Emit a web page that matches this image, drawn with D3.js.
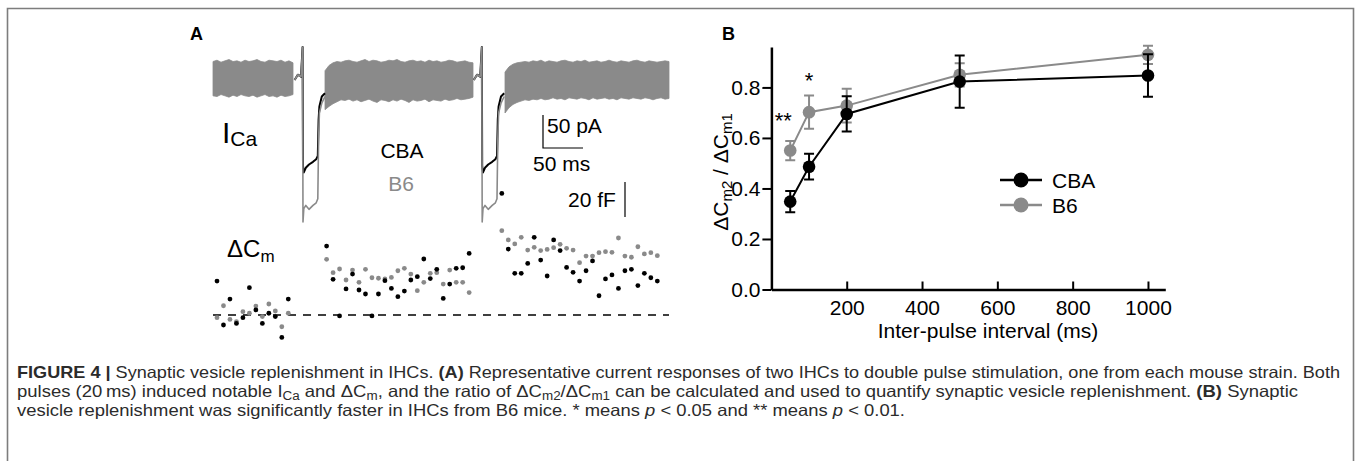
<!DOCTYPE html>
<html><head><meta charset="utf-8">
<script src="https://cdn.jsdelivr.net/npm/d3@7"></script>
<style>
html,body{margin:0;padding:0;background:#fff;}
svg{display:block;font-family:"Liberation Sans",Arial,Helvetica,sans-serif;}
</style></head><body>
<svg id="fig" width="1357" height="461"></svg>
<script>
// ================= Panel A data =================
// current trace (pA) around each depolarising pulse, times relative to pulse onset (ms)
const pulseOnsets = [112, 336];
const pulseShapeTime = [-10, -6, -2, 0, 0.5, 1.5, 4, 8, 13, 17, 19, 20, 21, 24, 28];
const cbaPulse = [0, 8, 5, 50, -130, -140, -133, -128, -124, -120, -115, -60, -40, -25, -20];
const b6Pulse  = [0, 8, 5, 50, -215, -195, -190, -196, -190, -186, -180, -90, -50, -35, -25];

// noise envelope of the holding current (pA), sampled every 5 ms
const bandStep = 5;
const band1Start = 0;
const band1Top = [28, 30, 27, 29, 31, 28, 29, 27, 30, 28, 29, 31, 28, 27, 30, 29, 28, 30, 27, 29, 26];
const band1Bottom = [-24, -25, -22, -24, -26, -23, -25, -22, -24, -25, -23, -26, -24, -22, -25, -24, -26, -23, -25, -24, -22];
const band2Start = 140;
const band2Top = [14, 22, 26, 28, 27, 29, 30, 28, 27, 29, 31, 28, 30, 29, 27, 28, 30, 29, 31, 28, 27, 29, 30, 28, 29, 27, 30, 28, 29, 27, 28, 30, 29, 27, 28, 29, 27, 26];
const band2Bottom = [-45, -40, -36, -33, -30, -31, -29, -32, -30, -33, -31, -29, -32, -34, -30, -31, -33, -30, -32, -29, -31, -34, -30, -32, -31, -29, -33, -30, -31, -32, -29, -31, -30, -28, -30, -29, -28, -26];
const band3Start = 365;
const band3Top = [12, 20, 24, 26, 27, 28, 27, 29, 28, 30, 27, 29, 28, 27, 29, 30, 28, 27, 29, 28, 30, 27, 28, 29, 27, 28, 30, 28, 27, 29, 28, 27, 29, 30, 28, 27, 29, 28, 27, 28, 29, 28];
const band3Bottom = [-50, -42, -37, -34, -32, -30, -31, -29, -30, -28, -30, -29, -27, -29, -28, -30, -27, -28, -29, -27, -28, -30, -27, -29, -28, -27, -29, -28, -30, -27, -28, -29, -27, -28, -29, -27, -28, -30, -28, -27, -29, -28];

// capacitance samples (fF), one every cmInterval ms
const cmInterval = 8.1;
const cmSeg1Start = 5, cmSeg2Start = 142, cmSeg3Start = 361;
const cbaCm1 = [19.4, -5.7, 9.1, -4.8, -1.5, 15.6, 2.9, -4.8, 1.0, -0.9, -12.8, 9.1];
const b6Cm1  = [-1.5, 5.3, -2.5, -3.8, 1.9, 1.0, 5.1, -0.9, 6.3, 2.3, -6.7, 1.0];
const cbaCm2 = [39.4, 20.4, -0.5, 14.9, 23.4, 14.3, 12.0, -0.5, 12.0, 19.6, 15.2, 10.5, 13.7, 20.0, 21.9, 32.0, 20.8, 26.1, 9.5, 17.7, 26.7, 27.0, 35.2];
const b6Cm2  = [31.8, 24.2, 26.3, 20.0, 25.7, 18.7, 26.1, 21.3, 21.0, 20.6, 21.5, 25.3, 26.7, 23.4, 13.9, 18.7, 23.8, 24.2, 17.7, 25.7, 18.7, 18.7, 12.8];
const cbaCm3 = [69.5, 37.7, 23.8, 23.8, 29.5, 44.4, 31.4, 22.3, 42.9, 36.8, 27.2, 24.4, 19.4, 25.3, 30.9, 11.0, 20.6, 22.9, 15.2, 25.3, 26.1, 16.8, 23.8, 21.3, 19.4];
const b6Cm3  = [48.2, 42.9, 40.6, 44.4, 37.1, 38.7, 36.8, 37.5, 38.5, 40.4, 38.1, 37.1, 29.9, 33.7, 33.7, 35.6, 36.2, 35.8, 44.0, 33.7, 33.0, 39.0, 34.9, 35.6, 33.9];

// scale bars
const barTimeMs = 50, barCurrentPA = 50, barCapFF = 20;

// ================= Panel B data =================
const intervals = [50, 100, 200, 500, 1000];
const cbaRatio = [0.348, 0.486, 0.695, 0.823, 0.847];
const cbaSem   = [0.042, 0.051, 0.070, 0.103, 0.084];
const b6Ratio  = [0.550, 0.702, 0.728, 0.850, 0.929];
const b6Sem    = [0.038, 0.066, 0.067, 0.046, 0.036];
const yTicks = [0, 0.2, 0.4, 0.6, 0.8];
const xTicks = [200, 400, 600, 800, 1000];
const sigMarks = [{x: 50, label: "**"}, {x: 100, label: "*"}];

const GRAY = "#8a8a8a";
const svg = d3.select("#fig");

// frame
svg.append("path").attr("d", "M7.5,461V8.5H1353.5V461")
  .attr("fill", "none").attr("stroke", "#7d7d7d").attr("stroke-width", 1.6);

// ---------------- Panel A ----------------
const xA = d3.scaleLinear().domain([0, 570]).range([213, 669]);
const yI = d3.scaleLinear().domain([-250, 50]).range([245, 47]);
const yC = d3.scaleLinear().domain([0, 80]).range([315, 175]);
const gA = svg.append("g");

svg.append("text").attr("x", 190).attr("y", 40).attr("font-weight", "bold")
  .attr("font-size", 18).text("A");

// noise band
const bands = [[band1Start, band1Top, band1Bottom], [band2Start, band2Top, band2Bottom], [band3Start, band3Top, band3Bottom]];
const area = d3.area().x(d => xA(d.t)).y0(d => yI(d.lo)).y1(d => yI(d.hi));
bands.forEach(([s, top, bot]) => {
  const pts = top.map((v, i) => ({t: s + i * bandStep, hi: v, lo: bot[i]}));
  gA.append("path").attr("d", area(pts)).attr("fill", GRAY).attr("stroke", GRAY).attr("stroke-width", 0.8);
});

// pulse traces
const line = d3.line().x(d => xA(d.t)).y(d => yI(d.v));
[[cbaPulse, "#000"], [b6Pulse, GRAY]].forEach(([shape, col]) => {
  pulseOnsets.forEach(on => {
    const pts = shape.map((v, i) => ({t: on + pulseShapeTime[i], v}));
    gA.append("path").attr("d", line(pts)).attr("fill", "none")
      .attr("stroke", col).attr("stroke-width", col === "#000" ? 2 : 1.6).attr("stroke-linejoin", "round");
  });
});

// scale bars (current/time)
const sbT = 412.5, sbI = -103;
gA.append("path")
  .attr("d", `M${xA(sbT)},${yI(sbI + barCurrentPA)}V${yI(sbI)}H${xA(sbT + barTimeMs)}`)
  .attr("fill", "none").attr("stroke", "#000").attr("stroke-width", 1.2);
gA.append("text").attr("x", xA(sbT) + 4).attr("y", 133).attr("font-size", 21).text("50 pA");
gA.append("text").attr("x", 533).attr("y", 171).attr("font-size", 21).text("50 ms");

// capacitance scale bar
const sbCT = 515, sbC = 56;
gA.append("line").attr("x1", xA(sbCT)).attr("x2", xA(sbCT))
  .attr("y1", yC(sbC)).attr("y2", yC(sbC + barCapFF)).attr("stroke", "#000").attr("stroke-width", 1.2);
gA.append("text").attr("x", 568).attr("y", 207).attr("font-size", 21).text("20 fF");

// labels
const ica = gA.append("text").attr("x", 222).attr("y", 143).attr("font-size", 30);
ica.append("tspan").text("I");
ica.append("tspan").attr("font-size", 21).attr("dy", 3).text("Ca");
gA.append("text").attr("x", 402).attr("y", 158).attr("text-anchor", "middle").attr("font-size", 21).text("CBA");
gA.append("text").attr("x", 401).attr("y", 191).attr("text-anchor", "middle").attr("font-size", 21).attr("fill", GRAY).text("B6");
const dcm = gA.append("text").attr("x", 227).attr("y", 257).attr("font-size", 24);
dcm.append("tspan").text("\u0394C");
dcm.append("tspan").attr("font-size", 17).attr("dy", 5).text("m");

// dashed baseline
gA.append("line").attr("x1", xA(0)).attr("x2", xA(570)).attr("y1", yC(0)).attr("y2", yC(0))
  .attr("stroke", "#000").attr("stroke-width", 1.5).attr("stroke-dasharray", "8,7");

// dots
const cmSets = [[cmSeg1Start, b6Cm1, GRAY], [cmSeg2Start, b6Cm2, GRAY], [cmSeg3Start, b6Cm3, GRAY],
                [cmSeg1Start, cbaCm1, "#000"], [cmSeg2Start, cbaCm2, "#000"], [cmSeg3Start, cbaCm3, "#000"]];
cmSets.forEach(([s, vals, col]) => {
  gA.append("g").selectAll("circle").data(vals).join("circle")
    .attr("cx", (d, i) => xA(s + i * cmInterval)).attr("cy", d => yC(d)).attr("r", 2.4).attr("fill", col);
});

// ---------------- Panel B ----------------
const xB = d3.scaleLinear().domain([0, 1046]).range([771.4, 1165.3]);
const yB = d3.scaleLinear().domain([0, 0.96]).range([289.5, 47]);
const gB = svg.append("g");
svg.append("text").attr("x", 722).attr("y", 40).attr("font-weight", "bold").attr("font-size", 18).text("B");

const yAx = gB.append("g").attr("transform", `translate(${xB(0)},0)`)
  .call(d3.axisLeft(yB).tickValues(yTicks).tickFormat(d3.format(".1f")).tickSizeInner(9).tickSizeOuter(0).tickPadding(2));
const xAx = gB.append("g").attr("transform", `translate(0,${yB(0)})`)
  .call(d3.axisBottom(xB).tickValues(xTicks).tickFormat(d3.format("d")).tickSizeInner(-8).tickSizeOuter(0).tickPadding(11));
[yAx, xAx].forEach(ax => {
  ax.select(".domain").attr("stroke", "#000").attr("stroke-width", 2.5);
  ax.selectAll(".tick line").attr("stroke", "#000").attr("stroke-width", 2);
  ax.selectAll("text").attr("font-size", 21).attr("fill", "#000").attr("font-family", '"Liberation Sans",Arial,sans-serif');
});

gB.append("text").attr("x", 988).attr("y", 338).attr("text-anchor", "middle").attr("font-size", 21)
  .text("Inter-pulse interval (ms)");
const yl = gB.append("text").attr("transform", "translate(728,172) rotate(-90)")
  .attr("text-anchor", "middle").attr("font-size", 21);
yl.append("tspan").text("\u0394C");
yl.append("tspan").attr("font-size", 15).attr("dy", 4).text("m2");
yl.append("tspan").attr("dy", -4).text(" / \u0394C");
yl.append("tspan").attr("font-size", 15).attr("dy", 4).text("m1");

const series = [[b6Ratio, b6Sem, GRAY], [cbaRatio, cbaSem, "#000"]];
const lineB = d3.line().x((d, i) => xB(intervals[i])).y(d => yB(d));
series.forEach(([vals, sem, col]) => {
  const g = gB.append("g");
  g.append("path").attr("d", lineB(vals)).attr("fill", "none").attr("stroke", col).attr("stroke-width", 2);
  vals.forEach((v, i) => {
    const x = xB(intervals[i]);
    const y1 = yB(v + sem[i]), y2 = yB(v - sem[i]);
    g.append("path").attr("d", `M${x},${y1}V${y2}M${x - 5},${y1}H${x + 5}M${x - 5},${y2}H${x + 5}`)
      .attr("stroke", col).attr("stroke-width", 2).attr("fill", "none");
  });
  g.selectAll("circle").data(vals).join("circle")
    .attr("cx", (d, i) => xB(intervals[i])).attr("cy", d => yB(d)).attr("r", 6.3).attr("fill", col);
});

// significance
gB.append("text").attr("x", xB(sigMarks[0].x) - 7).attr("y", 128).attr("text-anchor", "middle")
  .attr("font-size", 22).text(sigMarks[0].label);
gB.append("text").attr("x", xB(sigMarks[1].x)).attr("y", 88).attr("text-anchor", "middle")
  .attr("font-size", 22).text(sigMarks[1].label);

// legend
[["CBA", "#000", 180], ["B6", GRAY, 205]].forEach(([lab, col, y]) => {
  gB.append("line").attr("x1", 1000).attr("x2", 1042).attr("y1", y).attr("y2", y).attr("stroke", col).attr("stroke-width", 2.5);
  gB.append("circle").attr("cx", 1021).attr("cy", y).attr("r", 7.5).attr("fill", col);
  gB.append("text").attr("x", 1052).attr("y", y + 7.5).attr("font-size", 21).text(lab);
});

// ---------------- Caption ----------------
const capLines = [
  {y: 378, w: 1323, segs: [["FIGURE 4 | ", "b"], ["Synaptic vesicle replenishment in IHCs. "], ["(A)", "b"],
    [" Representative current responses of two IHCs to double pulse stimulation, one from each mouse strain. Both"]]},
  {y: 397, w: 1281, segs: [["pulses (20\u2009ms) induced notable I"], ["Ca", "sub"], [" and \u0394C"], ["m", "sub"],
    [", and the ratio of \u0394C"], ["m2", "sub"], ["/\u0394C"], ["m1", "sub"],
    [" can be calculated and used to quantify synaptic vesicle replenishment. "], ["(B)", "b"], [" Synaptic"]]},
  {y: 416, w: 888, segs: [["vesicle replenishment was significantly faster in IHCs from B6 mice. * means "], ["p", "i"],
    [" < 0.05 and ** means "], ["p", "i"], [" < 0.01."]]}
];
capLines.forEach(L => {
  const t = svg.append("text").attr("x", 17).attr("y", L.y).attr("font-size", 16.5).attr("fill", "#2b2b2b")
    .attr("textLength", L.w).attr("lengthAdjust", "spacingAndGlyphs");
  let shifted = false;
  L.segs.forEach(([s, k]) => {
    const sp = t.append("tspan").text(s);
    if (k === "b") sp.attr("font-weight", "bold");
    if (k === "i") sp.attr("font-style", "italic");
    if (k === "sub") { sp.attr("font-size", 12).attr("dy", 3); shifted = true; }
    else if (shifted) { sp.attr("dy", -3); shifted = false; }
  });
});
</script>
</body></html>
